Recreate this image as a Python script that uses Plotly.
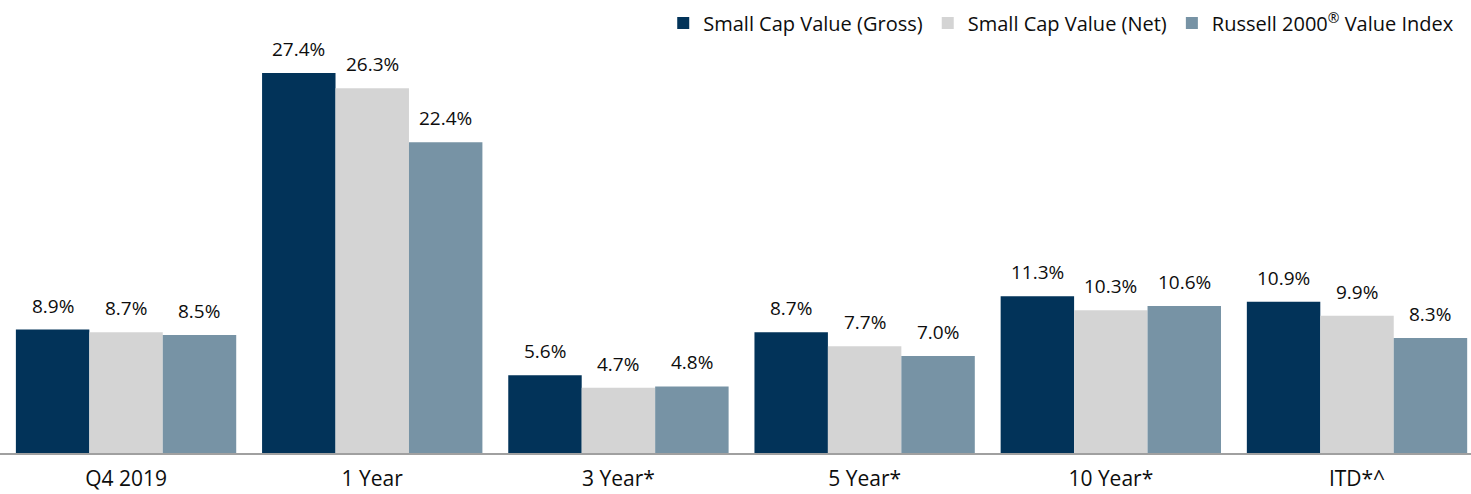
import plotly.graph_objects as go

categories = ["Q4 2019", "1 Year", "3 Year*", "5 Year*", "10 Year*", "ITD*^"]
gross = [8.9, 27.4, 5.6, 8.7, 11.3, 10.9]
net = [8.7, 26.3, 4.7, 7.7, 10.3, 9.9]
index = [8.5, 22.4, 4.8, 7.0, 10.6, 8.3]
series_names = ["Small Cap Value (Gross)", "Small Cap Value (Net)",
                "Russell 2000<sup style='font-size:70%'>®</sup> Value Index"]
colors = ["#023359", "#d4d4d4", "#7793a5"]

FONT = "Open Sans"
TXT = "#0d0d0d"
fig = go.Figure()
series = [gross, net, index]
for name, vals, col in zip(series_names, series, colors):
    fig.add_trace(go.Bar(x=list(range(len(categories))), y=vals, name=name,
                         marker=dict(color=col, line=dict(width=0))))

bar_w = 0.298
offsets = [-bar_w, 0, bar_w]
for vals, off in zip(series, offsets):
    for i, v in enumerate(vals):
        fig.add_annotation(x=i + off, y=v, xref="x", yref="y", text=f"{v:.1f}%",
                           showarrow=False, yanchor="middle", yshift=24,
                           font=dict(family=FONT, size=19, color=TXT))

fig.update_layout(
    width=1471, height=494,
    margin=dict(l=0, r=0, t=0, b=41),
    barmode="group", bargap=0.105, bargroupgap=0,
    plot_bgcolor="white", paper_bgcolor="white",
    font=dict(family=FONT, size=18, color=TXT),
    showlegend=True,
    legend=dict(orientation="h", x=0.992, xanchor="right", y=0.949, yanchor="middle",
                font=dict(family=FONT, size=20, color=TXT),
                itemwidth=30, traceorder="normal",
                bgcolor="rgba(0,0,0,0)"),
    xaxis=dict(tickmode="array", tickvals=list(range(len(categories))), ticktext=categories,
               range=[-0.512, 5.463], showline=True, linecolor="#a0a0a0", linewidth=2,
               showgrid=False, zeroline=False, ticks="", ticklabelstandoff=6,
               automargin=False,
               tickfont=dict(family=FONT, size=21, color=TXT)),
    yaxis=dict(range=[0, 32.66], visible=False, showgrid=False, zeroline=False,
               automargin=False),
)
fig.write_html("out.html", config={"displayModeBar": False},
               post_script="document.body.style.margin='0';")
